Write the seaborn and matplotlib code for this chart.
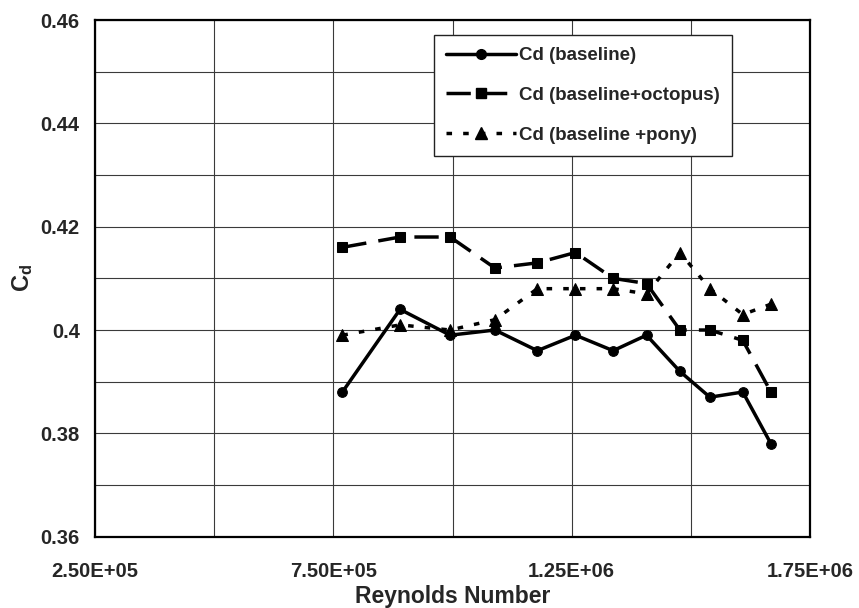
import numpy as np
import pandas as pd
import matplotlib
matplotlib.use("Agg")
import matplotlib.pyplot as plt
from matplotlib.ticker import FixedLocator, FuncFormatter
from matplotlib.lines import Line2D
import seaborn as sns

# ---- data ----
reynolds = [7.69e5, 8.90e5, 9.95e5, 1.089e6, 1.178e6, 1.258e6, 1.337e6,
            1.407e6, 1.477e6, 1.540e6, 1.609e6, 1.668e6]
cd_baseline = [0.388, 0.404, 0.399, 0.400, 0.396, 0.399, 0.396, 0.399,
               0.392, 0.387, 0.388, 0.378]
cd_octopus = [0.416, 0.418, 0.418, 0.412, 0.413, 0.415, 0.410, 0.409,
              0.400, 0.400, 0.398, 0.388]
cd_pony = [0.399, 0.401, 0.400, 0.402, 0.408, 0.408, 0.408, 0.407,
           0.415, 0.408, 0.403, 0.405]
labels = ["Cd (baseline)", "Cd (baseline+octopus)", "Cd (baseline +pony)"]
x_ticks = [2.5e5, 7.5e5, 1.25e6, 1.75e6]
y_ticks = [0.36, 0.38, 0.40, 0.42, 0.44, 0.46]

sns.set_style("white")
plt.rcParams['font.family'] = ['Liberation Sans', 'DejaVu Sans']
plt.rcParams['font.weight'] = 'bold'
plt.rcParams['mathtext.fontset'] = 'custom'
plt.rcParams['mathtext.rm'] = 'Liberation Sans:bold'
plt.rcParams['mathtext.bf'] = 'Liberation Sans:bold'
plt.rcParams['mathtext.it'] = 'Liberation Sans:bold'

fig = plt.figure(figsize=(8.59, 6.08), dpi=100)
ax = fig.add_axes([95/859, 1-536.7/608, (810-95)/859, (536.7-20)/608])

df = pd.DataFrame({"Re": reynolds, "base": cd_baseline,
                   "oct": cd_octopus, "pony": cd_pony})

lw = 2.5
sns.lineplot(data=df, x="Re", y="base", ax=ax, color="black", lw=lw,
             marker="o", markersize=7, markeredgecolor="black")
sns.lineplot(data=df, x="Re", y="oct", ax=ax, color="black", lw=lw,
             marker="s", markersize=7, markeredgecolor="black")
sns.lineplot(data=df, x="Re", y="pony", ax=ax, color="black", lw=lw,
             marker="^", markersize=8, markeredgecolor="black")
ax.lines[1].set_dashes((7, 3.5))
ax.lines[2].set_dashes((1.6, 3.2))

ax.set_xlim(2.5e5, 1.75e6)
ax.set_ylim(0.36, 0.46)
ax.xaxis.set_major_locator(FixedLocator(x_ticks))
ax.xaxis.set_minor_locator(FixedLocator([5e5, 1.0e6, 1.5e6]))
ax.yaxis.set_major_locator(FixedLocator(y_ticks))
ax.yaxis.set_minor_locator(FixedLocator([0.37, 0.39, 0.41, 0.43, 0.45]))
ax.xaxis.set_major_formatter(FuncFormatter(lambda v, p: f"{v:.2E}"))
ax.yaxis.set_major_formatter(FuncFormatter(lambda v, p: f"{v:g}"))

ax.grid(True, which="both", color="#3a3a3a", lw=0.8)
ax.set_axisbelow(True)
ax.tick_params(axis="both", which="major", direction="out", length=5,
               width=1, color="#555555", labelsize=14.5, pad=6)
ax.tick_params(axis="x", which="major", pad=13)
ax.tick_params(axis="both", which="minor", length=0)
for lab in ax.get_xticklabels() + ax.get_yticklabels():
    lab.set_fontweight("bold")
for s in ax.spines.values():
    s.set_visible(True)
    s.set_color("black")
    s.set_linewidth(1.6)

ax.set_xlabel("Reynolds Number", fontsize=16.5, fontweight="bold", labelpad=3)
ax.set_ylabel(r"$\mathbf{C_d}$", fontsize=17, labelpad=4)

handles = [Line2D([], [], color="black", lw=lw, marker="o", markersize=7),
           Line2D([], [], color="black", lw=lw, marker="s", markersize=7,
                  dashes=(7, 3.5)),
           Line2D([], [], color="black", lw=lw, marker="^", markersize=8,
                  dashes=(1.6, 3.2))]
leg = ax.legend(handles, labels, loc="upper left",
                bbox_to_anchor=(434/859, 1-35/608), bbox_transform=fig.transFigure,
                frameon=True, fancybox=False, framealpha=1, edgecolor="#222222",
                prop={"weight": "bold", "size": 13.5}, handlelength=3.7,
                labelspacing=1.2, borderpad=0.65, handletextpad=0.2,
                borderaxespad=0)
leg.get_frame().set_linewidth(1.0)

fig.savefig("out.png", dpi=100)
